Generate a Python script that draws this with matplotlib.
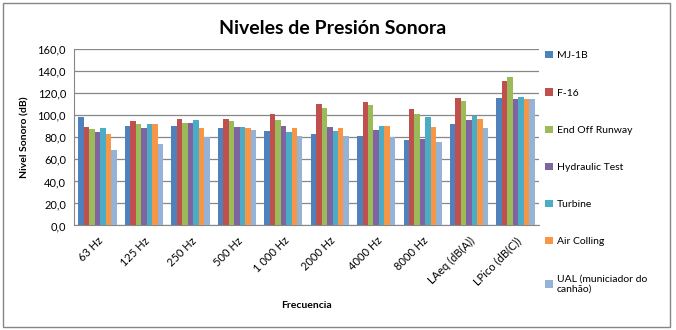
import numpy as np
import matplotlib
matplotlib.use("Agg")
import matplotlib.pyplot as plt
from matplotlib.patches import Rectangle

# Frequency bands / summary metrics on the x axis
categories = ["63 Hz", "125 Hz", "250 Hz", "500 Hz", "1 000 Hz", "2000 Hz",
              "4000 Hz", "8000 Hz", "LAeq (dB(A))", "LPico (dB(C))"]

# Sound level (dB) per source
mj_1b = [98.4, 90.7, 90.7, 88.9, 85.6, 83.2, 81.1, 78.0, 91.7, 116.2]
f_16 = [89.8, 95.0, 96.5, 96.5, 101.1, 110.5, 112.0, 105.9, 116.2, 131.6]
end_off_runway = [87.4, 91.7, 93.2, 95.0, 95.9, 106.8, 109.5, 100.8, 112.9, 135.0]
hydraulic_test = [84.7, 88.9, 93.2, 89.8, 90.7, 89.8, 86.5, 78.6, 95.6, 114.7]
turbine = [88.9, 92.3, 95.9, 89.8, 84.7, 86.2, 90.5, 98.9, 99.2, 117.1]
air_colling = [82.9, 92.3, 88.9, 88.9, 88.3, 88.3, 90.5, 89.5, 96.8, 114.7]
ual = [68.6, 73.8, 80.2, 86.8, 81.1, 81.1, 80.2, 76.2, 88.9, 115.0]

series = [mj_1b, f_16, end_off_runway, hydraulic_test, turbine, air_colling, ual]
labels = ["MJ-1B", "F-16", "End Off Runway", "Hydraulic Test", "Turbine",
          "Air Colling", "UAL (municiador do\ncanhão)"]
colors = ["#4F81BD", "#C0504D", "#9BBB59", "#8064A2", "#4BACC6", "#F79646", "#95B3D7"]

plt.rcParams['font.family'] = ['Lato', 'DejaVu Sans']

fig = plt.figure(figsize=(6.76, 3.30), dpi=100)
# outer chart border
fig.patches.append(Rectangle((3 / 676, 3 / 330), 667 / 676, 324 / 330, transform=fig.transFigure,
                             fill=False, edgecolor="#868686", linewidth=1.0))

ax = fig.add_axes([0.110, 0.3167, 0.687, 0.534])

x = np.arange(len(categories))
w = 1 / 8.5
for i, (vals, lab, col) in enumerate(zip(series, labels, colors)):
    ax.bar(x + (i - 3) * w, vals, width=w, color=col, label=lab, zorder=3)

ax.set_xlim(-0.5, len(categories) - 0.5)
ax.set_ylim(0, 160)
ax.set_yticks(np.arange(0, 161, 20))
ax.set_yticklabels([f"{v:.1f}".replace(".", ",") for v in np.arange(0, 161, 20)], fontsize=8)
ax.yaxis.grid(True, color="#878787", linewidth=0.9, zorder=0)
ax.set_xticks(x)
ax.set_xticklabels(categories, rotation=45, ha="right", rotation_mode="anchor", fontsize=8)
ax.tick_params(axis="x", length=0, pad=7)
ax.tick_params(axis="y", length=0, pad=6)
for s in ["top", "right"]:
    ax.spines[s].set_visible(False)
for s in ["left", "bottom"]:
    ax.spines[s].set_color("#878787")

ax.set_ylabel("Nivel Sonoro (dB)", fontsize=7.5, fontweight="bold", labelpad=6)
ax.set_xlabel("Frecuencia", fontsize=7.5, fontweight="bold", labelpad=10)

fig.text(0.492, 0.915, "Niveles de Presión Sonora", fontsize=14, fontweight="bold",
         ha="center", va="center")

ax.legend(loc="upper left", bbox_to_anchor=(1.005, 1.013), frameon=False, fontsize=7.5,
          handlelength=0.7, handleheight=0.7, handletextpad=0.4, labelspacing=2.68,
          borderaxespad=0)

fig.savefig("out.png", dpi=100)
